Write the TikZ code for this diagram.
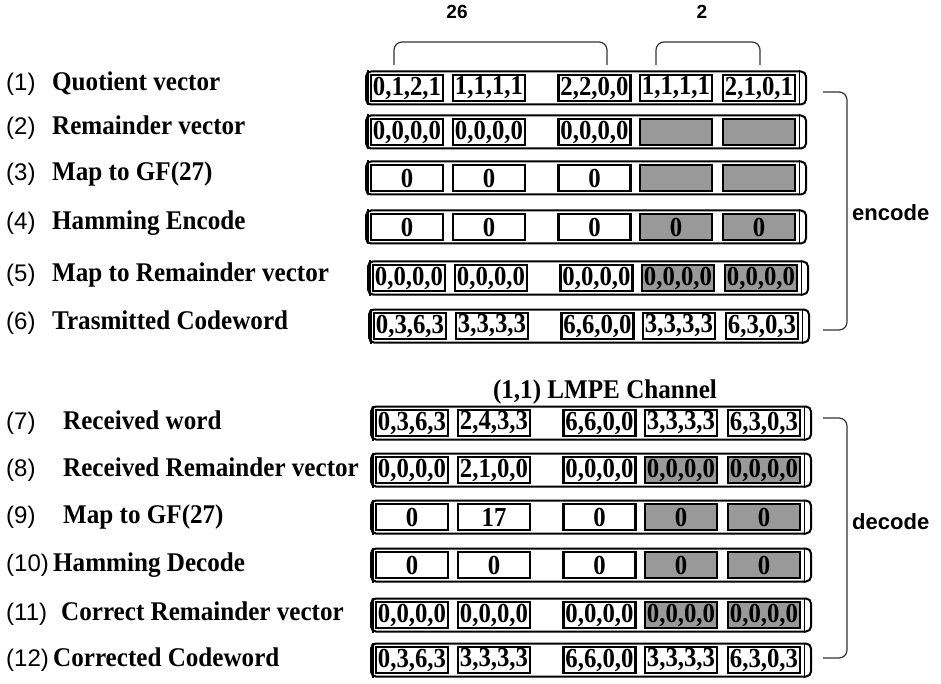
\documentclass[tikz,border=0pt]{standalone}
\usepackage{fontspec}
\setmainfont{Liberation Serif}
\newfontfamily\sansfont{Liberation Sans}
\newfontfamily\cellfont[FakeStretch=0.9]{Liberation Serif}
\newfontfamily\labelfont[FakeStretch=0.93]{Liberation Serif}
\usepackage{xcolor}
\definecolor{cLine}{HTML}{000000}
\definecolor{cShade}{HTML}{999999}
\definecolor{cBrace}{HTML}{333333}
\usepackage{tikz}
\tikzset{
  word-frame/.style={draw=cLine,line width=2pt,rounded corners=5pt,
    minimum width=440,minimum height=33,inner sep=0pt},
  word-edge/.style={draw=cLine,line width=1.1pt},
  cell-box/.style={draw=cLine,line width=2.2pt,fill=white,minimum width=72,
    minimum height=26,inner sep=0pt,font=\cellfont\fontsize{27.5}{30}\selectfont\bfseries},
  cell-plain/.style={fill=white},
  cell-shade/.style={fill=cShade},
  step-num/.style={anchor=base west,inner sep=0pt,font=\sansfont\fontsize{24}{28}\selectfont},
  step-label/.style={anchor=base west,inner sep=0pt,font=\labelfont\fontsize{27}{30}\selectfont\bfseries},
  count-label/.style={font=\sansfont\fontsize{19}{22}\selectfont\bfseries},
  side-label/.style={anchor=west,inner sep=0pt,font=\sansfont\fontsize{22}{26}\selectfont\bfseries},
  channel-label/.style={font=\labelfont\fontsize{27}{30}\selectfont\bfseries},
  brace-line/.style={draw=cBrace,line width=1.2pt,rounded corners=8pt},
}
% one code word: frame, end bars and five cells (last two may be shaded)
\newcommand\wordrow[9]{%
  \node[word-frame] (#1) at (586+#3,#2) {};
  \draw[word-edge] ([xshift=3pt]#1.north west) -- ([xshift=3pt]#1.south west);
  \draw[word-edge] ([xshift=-7.5pt]#1.north east) -- ([xshift=-7.5pt]#1.south east);
  \node[cell-box]    (#1-c1) at (407+#3,#2) {#5};
  \node[cell-box]    (#1-c2) at (489+#3,#2) {#6};
  \node[cell-box]    (#1-c3) at (594.5+#3,#2) {#7};
  \node[cell-box,#4] (#1-c4) at (676+#3,#2) {#8};
  \node[cell-box,#4] (#1-c5) at (759+#3,#2) {#9};
}

\begin{document}
\begin{tikzpicture}[x=1pt,y=-1pt]
  \useasboundingbox (0,0) rectangle (941,684);
  % step names
  \foreach \k/\y/\x/\txt in {1/91/52/Quotient vector, 2/135/52/Remainder vector,
      3/181/52/Map to GF(27), 4/230/52/Hamming Encode, 5/281/52/Map to Remainder vector,
      6/329/52/Trasmitted Codeword, 7/429/63/Received word, 8/476/63/Received Remainder vector,
      9/523/63/Map to GF(27), 10/571/53/Hamming Decode, 11/620/61/Correct Remainder vector,
      12/666/53/Corrected Codeword}{
    \node[step-num]   (num\k) at (6,\y)  {(\k)};
    \node[step-label] (lab\k) at (\x,\y) {\txt};
  }
  % encoder side
  \wordrow{w1}{88}{0}{cell-plain}{0,1,2,1}{1,1,1,1}{2,2,0,0}{1,1,1,1}{2,1,0,1}
  \wordrow{w2}{132}{0}{cell-shade}{0,0,0,0}{0,0,0,0}{0,0,0,0}{}{}
  \wordrow{w3}{178}{0}{cell-shade}{0}{0}{0}{}{}
  \wordrow{w4}{227}{0}{cell-shade}{0}{0}{0}{0}{0}
  \wordrow{w5}{278}{2}{cell-shade}{0,0,0,0}{0,0,0,0}{0,0,0,0}{0,0,0,0}{0,0,0,0}
  \wordrow{w6}{326}{3}{cell-plain}{0,3,6,3}{3,3,3,3}{6,6,0,0}{3,3,3,3}{6,3,0,3}
  \node[channel-label] (chan) at (605,392) {(1,1) LMPE Channel};
  % decoder side
  \wordrow{w7}{423}{5}{cell-plain}{0,3,6,3}{2,4,3,3}{6,6,0,0}{3,3,3,3}{6,3,0,3}
  \wordrow{w8}{470}{5}{cell-shade}{0,0,0,0}{2,1,0,0}{0,0,0,0}{0,0,0,0}{0,0,0,0}
  \wordrow{w9}{517}{5}{cell-shade}{0}{17}{0}{0}{0}
  \wordrow{w10}{565}{5}{cell-shade}{0}{0}{0}{0}{0}
  \wordrow{w11}{615}{5}{cell-shade}{0,0,0,0}{0,0,0,0}{0,0,0,0}{0,0,0,0}{0,0,0,0}
  \wordrow{w12}{660}{5}{cell-plain}{0,3,6,3}{3,3,3,3}{6,6,0,0}{3,3,3,3}{6,3,0,3}
  % symbol counts
  \node[count-label] (n26) at (457,12) {26};
  \node[count-label] (n2)  at (702,12) {2};
  \coordinate (b26-l) at (394,65);
  \coordinate (b26-r) at (607,65);
  \coordinate (b2-l)  at (656,65);
  \coordinate (b2-r)  at (760,65);
  \draw[brace-line] (b26-l) -- ++(0,-23) -| (b26-r);
  \draw[brace-line] (b2-l)  -- ++(0,-23) -| (b2-r);
  % encode / decode brackets
  \coordinate (enc-a) at (823,92);
  \coordinate (enc-b) at (823,330);
  \coordinate (dec-a) at (823,418);
  \coordinate (dec-b) at (823,658);
  \draw[brace-line] (enc-a) -- ++(24,0) |- (enc-b);
  \draw[brace-line] (dec-a) -- ++(24,0) |- (dec-b);
  \node[side-label] (enc) at (852,213) {encode};
  \node[side-label] (dec) at (852,522) {decode};
\end{tikzpicture}
\end{document}
